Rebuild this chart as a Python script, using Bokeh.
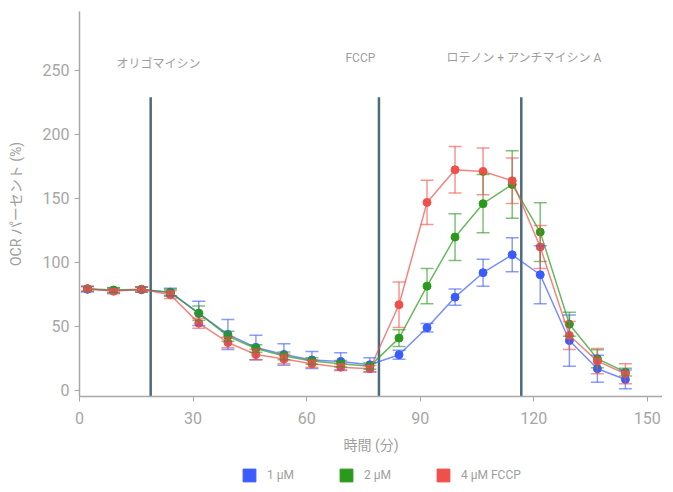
from bokeh.plotting import figure
from bokeh.layouts import column
from bokeh.models import (Range1d, Whisker, ColumnDataSource, Legend, LegendItem,
                          TeeHead, FixedTicker)
from bokeh.core.properties import value
from bokeh.embed import file_html
from bokeh.resources import INLINE

# ---------------- data ----------------
times = [2.1, 9.0, 16.4, 24.0, 31.5, 39.2, 46.6, 54.0, 61.4, 69.0,
         76.7, 84.4, 91.8, 99.2, 106.6, 114.3, 121.7, 129.4, 136.8, 144.2]

ocr_1uM = [79.0, 78.1, 78.7, 76.8, 60.2, 43.8, 33.6, 28.1, 23.8, 22.7,
           20.1, 27.9, 49.0, 72.9, 92.0, 106.0, 90.4, 39.0, 17.0, 8.6]
err_1uM = [2.0, 2.0, 2.0, 3.0, 9.4, 11.7, 9.6, 8.4, 6.6, 6.8,
           5.5, 3.5, 3.4, 6.3, 10.5, 13.3, 22.7, 20.0, 10.5, 7.3]

ocr_2uM = [79.5, 78.5, 79.0, 76.5, 60.4, 42.4, 32.8, 27.0, 23.0, 20.9,
           19.0, 40.9, 81.5, 119.8, 145.9, 160.9, 123.7, 51.8, 24.8, 14.3]
err_2uM = [2.0, 2.0, 2.0, 2.5, 5.5, 3.9, 3.0, 3.0, 2.5, 2.5,
           2.5, 6.5, 13.8, 18.2, 22.7, 26.3, 22.9, 9.4, 7.0, 3.0]

ocr_4uM = [79.5, 77.5, 79.0, 74.8, 52.6, 37.5, 28.1, 24.6, 20.9, 18.2,
           17.0, 67.0, 146.9, 172.4, 171.1, 163.8, 112.1, 43.0, 22.9, 13.0]
err_4uM = [2.0, 2.0, 2.0, 3.0, 3.9, 4.1, 4.1, 3.7, 3.0, 2.5,
           2.5, 17.8, 17.3, 18.2, 18.2, 17.7, 16.8, 10.9, 9.8, 7.8]

series_names = ["1 μM", "2 μM", "4 μM FCCP"]
series_colors = ["#3a5cff", "#2a9a1c", "#f0504a"]

injection_times = [18.8, 79.1, 116.7]
injection_top = 229
injection_labels = ["オリゴマイシン", "FCCP", "ロテノン + アンチマイシン A"]
label_x = [20.9, 74.2, 117.5]
label_y = [254.7, 259.4, 260.0]

x_ticks = [0, 30, 60, 90, 120, 150]
y_ticks = [0, 50, 100, 150, 200, 250]
x_min, x_max = 0, 154
y_min, y_max = -4.7, 296

FONT = "Roboto, 'Noto Sans CJK JP', sans-serif"
GRAY = "#9e9e9e"

# ---------------- main figure ----------------
p = figure(width=662, height=458, output_backend="svg", toolbar_location=None,
           x_range=Range1d(x_min, x_max), y_range=Range1d(y_min, y_max),
           min_border_left=79, min_border_right=0, min_border_top=11,
           min_border_bottom=62)
p.outline_line_color = None
p.xgrid.visible = False
p.ygrid.visible = False

# injection markers
p.segment(x0=injection_times, x1=injection_times,
          y0=[y_min] * len(injection_times), y1=[injection_top] * len(injection_times),
          line_color="#4d6b7d", line_width=2.5)

p.text(x=label_x, y=label_y, text=injection_labels,
       text_font=value(FONT), text_font_size="12px", text_color=GRAY,
       text_align="center", text_baseline="middle")

all_y = [ocr_1uM, ocr_2uM, ocr_4uM]
all_e = [err_1uM, err_2uM, err_4uM]
for name, color, ys, es in zip(series_names, series_colors, all_y, all_e):
    src = ColumnDataSource(dict(
        x=times, y=ys,
        upper=[a + b for a, b in zip(ys, es)],
        lower=[a - b for a, b in zip(ys, es)],
    ))
    w = Whisker(source=src, base="x", upper="upper", lower="lower",
                line_color=color, line_alpha=0.6, line_width=1.5,
                upper_head=TeeHead(size=13, line_color=color, line_alpha=0.6, line_width=1.5),
                lower_head=TeeHead(size=13, line_color=color, line_alpha=0.6, line_width=1.5),
                level="glyph")
    p.add_layout(w)
    p.line("x", "y", source=src, line_color=color, line_width=1.5, line_alpha=0.7)
    p.scatter("x", "y", source=src, size=8, fill_color=color, line_color=color)

# axes
for ax in (p.xaxis[0], p.yaxis[0]):
    ax.axis_line_color = "#a8a8a8"
    ax.axis_line_width = 1.5
    ax.major_tick_line_color = "#a8a8a8"
    ax.major_tick_line_width = 1
    ax.major_tick_out = 5
    ax.major_tick_in = 0
    ax.minor_tick_line_color = None
    ax.major_label_text_font = FONT
    ax.major_label_text_font_size = "16px"
    ax.major_label_text_color = "#a6a6a6"
    ax.axis_label_text_font = FONT
    ax.axis_label_text_font_size = "14px"
    ax.axis_label_text_color = GRAY
    ax.axis_label_text_font_style = "normal"

p.xaxis.ticker = FixedTicker(ticks=x_ticks)
p.yaxis.ticker = FixedTicker(ticks=y_ticks)
p.xaxis.axis_label = "時間 (分)"
p.yaxis.axis_label = "OCR パーセント (%)"
p.xaxis.major_label_standoff = 10
p.xaxis.axis_label_standoff = 10
p.yaxis.major_label_standoff = 5
p.yaxis.axis_label_standoff = 16

# ---------------- legend strip ----------------
lg = figure(width=662, height=25, output_backend="svg", toolbar_location=None,
            x_axis_location=None, y_axis_location=None,
            min_border_left=0, min_border_right=0, min_border_top=0, min_border_bottom=0)
lg.outline_line_color = None
lg.xgrid.visible = False
lg.ygrid.visible = False

nan = float("nan")
legend_items = []
for name, color in zip(series_names, series_colors):
    sw = lg.quad(left=[nan], right=[nan], top=[nan], bottom=[nan],
                 fill_color=color, line_color=color)
    legend_items.append(LegendItem(label=name, renderers=[sw]))

legend = Legend(items=legend_items, orientation="horizontal", location=(162, 0),
                glyph_width=16, glyph_height=16, label_text_font=FONT,
                label_text_font_size="12px", label_text_color=GRAY,
                label_standoff=10, spacing=44, padding=0, margin=0,
                border_line_color=None, background_fill_alpha=0)
lg.add_layout(legend, "center")

layout = column(p, lg, spacing=0)
open("out.html", "w").write(file_html(layout, INLINE))
